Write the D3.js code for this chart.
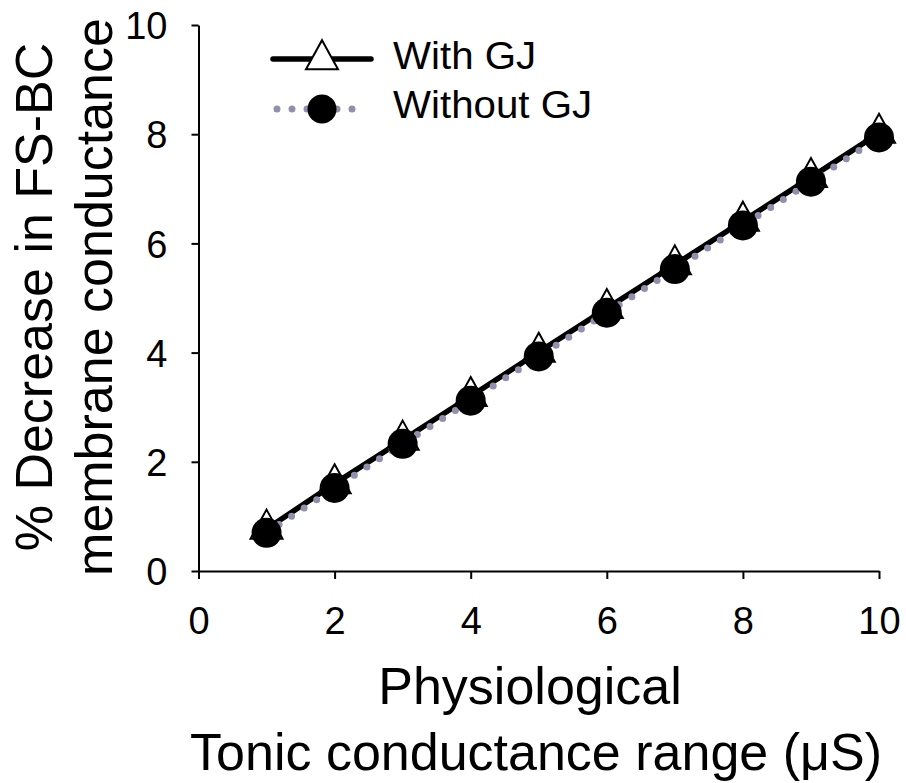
<!DOCTYPE html>
<html>
<head>
<meta charset="utf-8">
<script src="https://cdn.jsdelivr.net/npm/d3@7"></script>
<style>
  html, body { margin: 0; padding: 0; background: #fff; }
  svg { display: block; }
  text { font-family: "Liberation Sans", Arial, sans-serif; fill: #000; }
</style>
</head>
<body>
<svg id="chart" width="906" height="783"></svg>
<script>
const xValues = [1, 2, 3, 4, 5, 6, 7, 8, 9, 10];
const withGJ = [0.77, 1.60, 2.40, 3.20, 4.01, 4.81, 5.61, 6.41, 7.21, 8.02];
const withoutGJ = [0.70, 1.52, 2.33, 3.12, 3.93, 4.73, 5.53, 6.33, 7.13, 7.94];
const xTicks = [0, 2, 4, 6, 8, 10];
const yTicks = [0, 2, 4, 6, 8, 10];
const seriesNames = ["With GJ", "Without GJ"];
const yTitleLines = ["% Decrease in FS-BC", "membrane conductance"];
const xTitleLines = ["Physiological", "Tonic conductance range (\u03bcS)"];

const svg = d3.select("#chart");
const x = d3.scaleLinear().domain([0, 10]).range([198.5, 879]);
const y = d3.scaleLinear().domain([0, 10]).range([571, 25]);

const grayCol = "#9090ad";

// axes
const xAxis = d3.axisBottom(x).tickValues(xTicks).tickSize(8).tickSizeOuter(0).tickFormat(d3.format("d"));
const gx = svg.append("g").attr("transform", "translate(0,571)").call(xAxis);
gx.select(".domain").attr("stroke", "#000").attr("stroke-width", 2);
gx.selectAll(".tick line").attr("stroke", "#000").attr("stroke-width", 2);
gx.selectAll(".tick text").attr("font-size", 38).attr("y", 0).attr("dy", 0)
  .attr("transform", "translate(0,63)").style("font-family", "Liberation Sans, Arial, sans-serif");

const yAxis = d3.axisLeft(y).tickValues(yTicks).tickSize(7).tickSizeOuter(0).tickFormat(d3.format("d"));
const gy = svg.append("g").attr("transform", "translate(198.5,0)").call(yAxis);
gy.select(".domain").attr("stroke", "#000").attr("stroke-width", 2);
gy.selectAll(".tick line").attr("stroke", "#000").attr("stroke-width", 2);
gy.selectAll(".tick text").attr("font-size", 38).attr("x", -31).attr("dy", "0.36em")
  .style("font-family", "Liberation Sans, Arial, sans-serif");
svg.selectAll(".domain").attr("fill", "none");

// data
const dataWith = xValues.map((v, i) => [v, withGJ[i]]);
const dataWithout = xValues.map((v, i) => [v, withoutGJ[i]]);
const line = d3.line().x(d => x(d[0])).y(d => y(d[1]));

const triType = {
  draw(ctx, size) {
    const w = 32, h = 29;
    ctx.moveTo(0, -h * 2 / 3);
    ctx.lineTo(w / 2, h / 3);
    ctx.lineTo(-w / 2, h / 3);
    ctx.closePath();
  }
};
const triPath = d3.symbol().type(triType)();

// With GJ
svg.append("path").datum(dataWith).attr("d", line)
  .attr("fill", "none").attr("stroke", "#000").attr("stroke-width", 5.5);
svg.append("g").selectAll("path").data(dataWith).join("path")
  .attr("d", triPath)
  .attr("transform", d => `translate(${x(d[0])},${y(d[1])})`)
  .attr("fill", "#fff").attr("stroke", "#000").attr("stroke-width", 2);

// Without GJ
svg.append("path").datum(dataWithout).attr("d", line)
  .attr("fill", "none").attr("stroke", grayCol).attr("stroke-width", 7)
  .attr("stroke-linecap", "round").attr("stroke-dasharray", "0 15");
svg.append("g").selectAll("circle").data(dataWithout).join("circle")
  .attr("cx", d => x(d[0])).attr("cy", d => y(d[1])).attr("r", 15)
  .attr("fill", "#000");

// legend
const lg = svg.append("g");
lg.append("line").attr("x1", 273).attr("x2", 371).attr("y1", 59).attr("y2", 59)
  .attr("stroke", "#000").attr("stroke-width", 5.5).attr("stroke-linecap", "round");
lg.append("path").attr("d", triPath).attr("transform", "translate(322,59.5)")
  .attr("fill", "#fff").attr("stroke", "#000").attr("stroke-width", 2);
lg.append("text").attr("transform", "translate(393,69) scale(1.06,1)").attr("font-size", 38).text(seriesNames[0]);

lg.append("line").attr("x1", 277).attr("x2", 367).attr("y1", 109).attr("y2", 109)
  .attr("stroke", grayCol).attr("stroke-width", 7).attr("stroke-linecap", "round")
  .attr("stroke-dasharray", "0 15");
lg.append("circle").attr("cx", 322).attr("cy", 109).attr("r", 14.5).attr("fill", "#000");
lg.append("text").attr("transform", "translate(393,118) scale(1.06,1)").attr("font-size", 38).text(seriesNames[1]);

// y title
const yt = svg.append("g");
yt.append("text").attr("transform", "translate(52,297) rotate(-90)")
  .attr("text-anchor", "middle").attr("font-size", 52).text(yTitleLines[0]);
yt.append("text").attr("transform", "translate(112,297) rotate(-90)")
  .attr("text-anchor", "middle").attr("font-size", 52).text(yTitleLines[1]);

// x title
svg.append("text").attr("x", 530).attr("y", 704).attr("text-anchor", "middle")
  .attr("font-size", 52).text(xTitleLines[0]);
svg.append("text").attr("x", 536).attr("y", 770).attr("text-anchor", "middle")
  .attr("font-size", 52).text(xTitleLines[1]);
</script>
</body>
</html>
